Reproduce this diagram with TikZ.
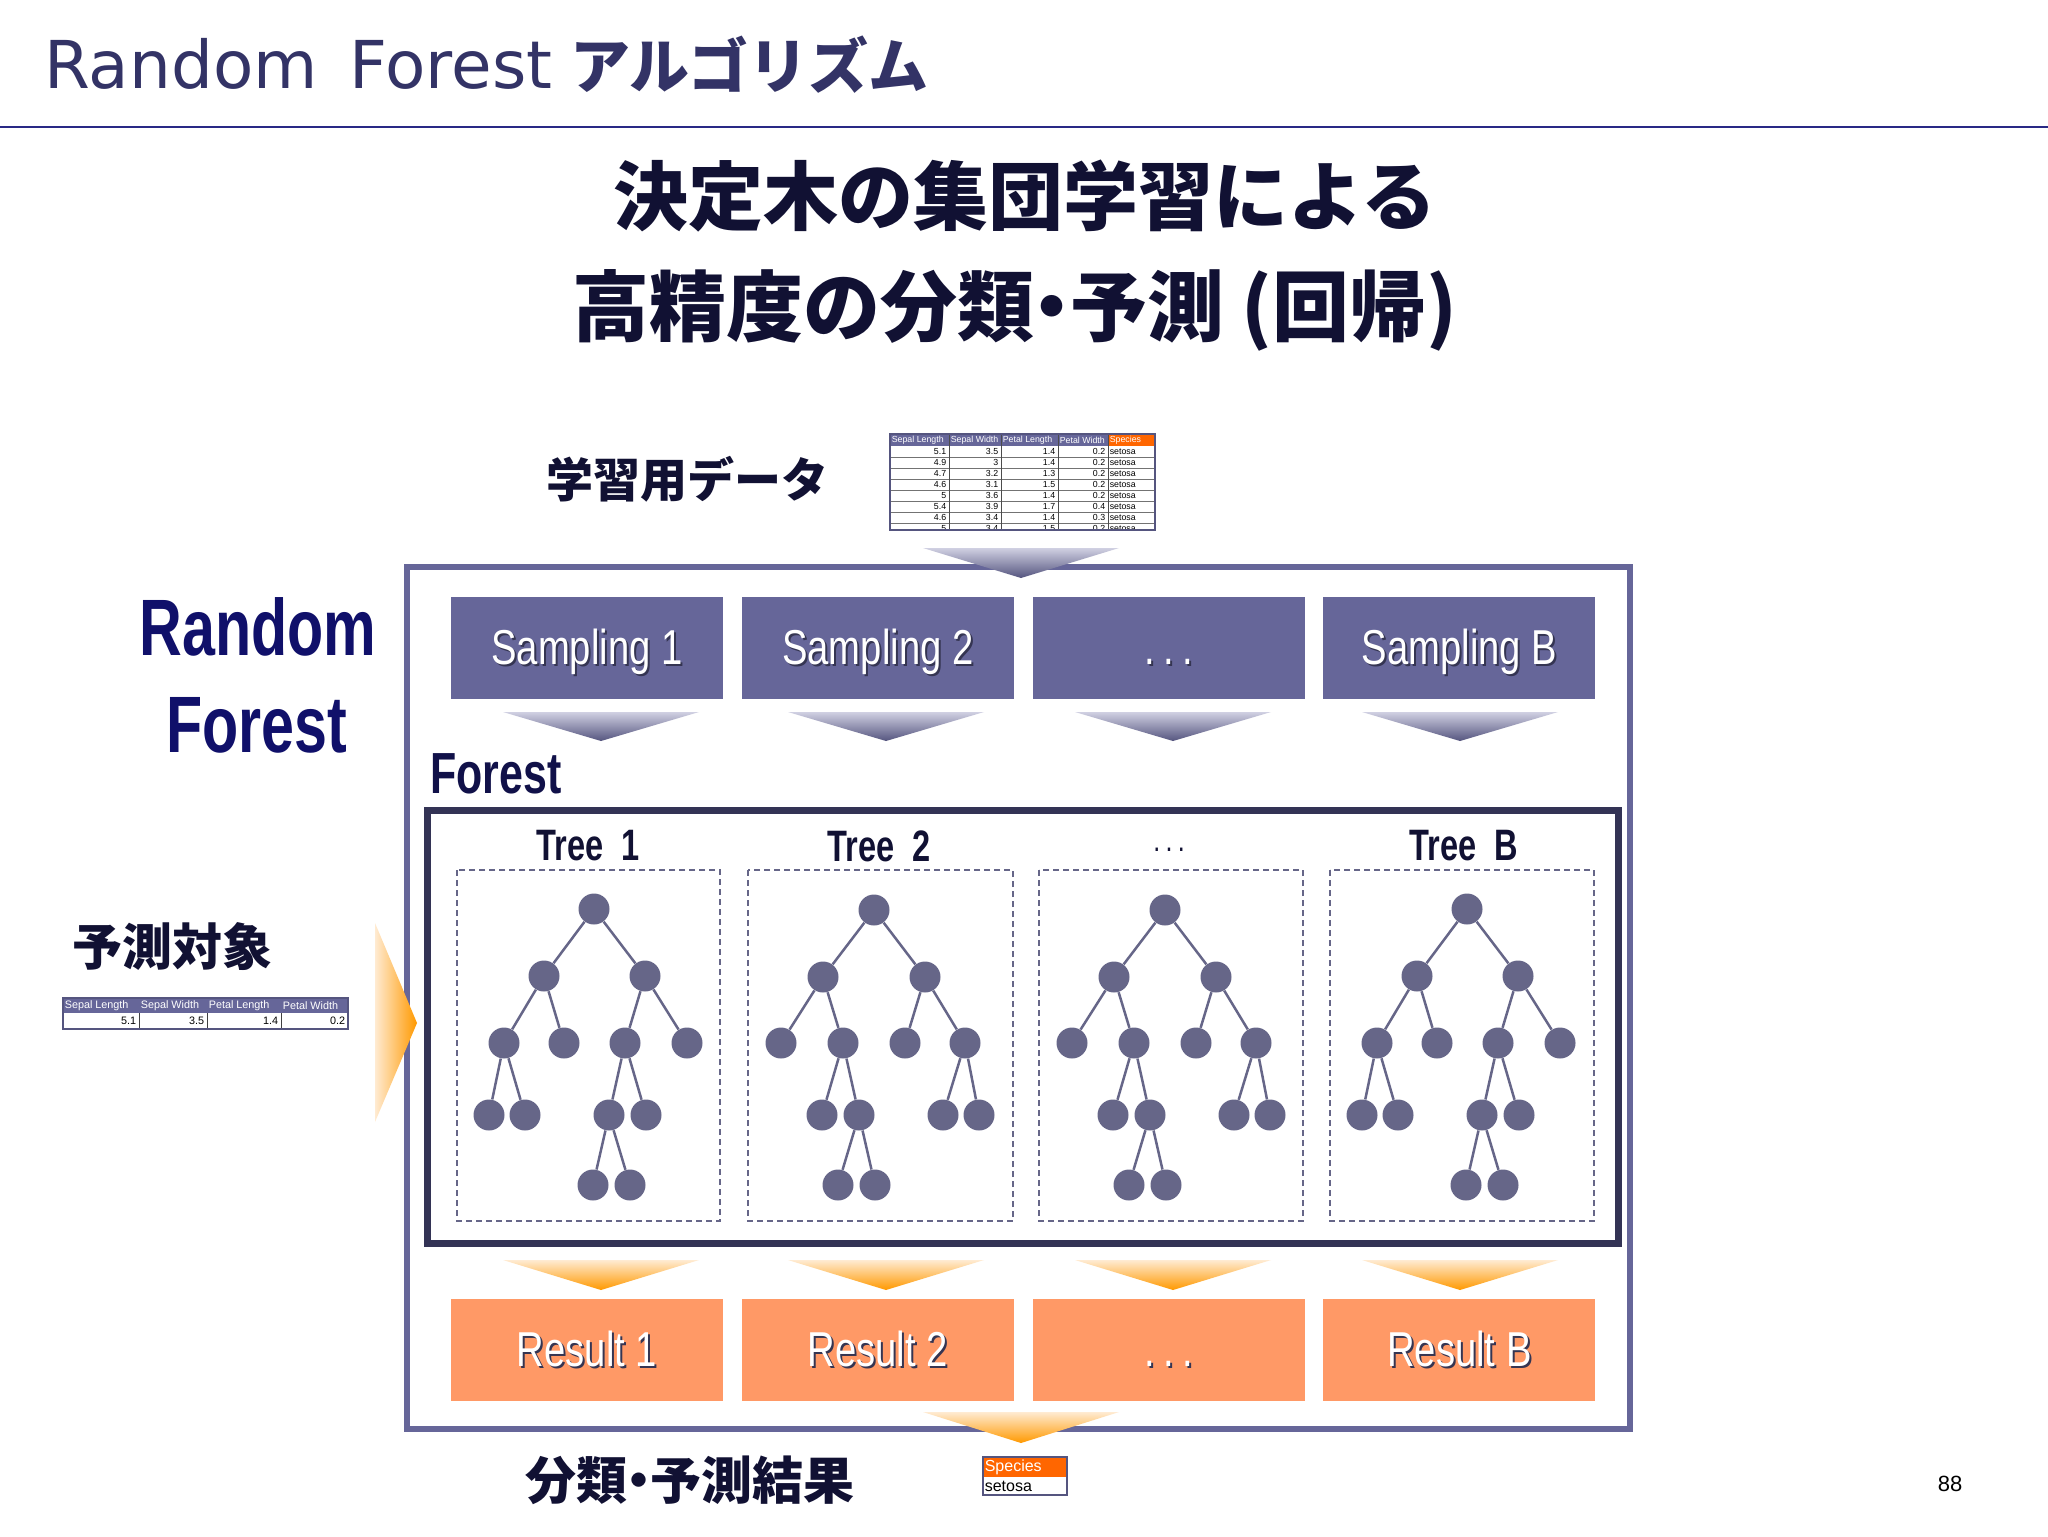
\documentclass[tikz,border=0pt]{standalone}
\usepackage{fontspec}
\usetikzlibrary{positioning}
\setmainfont{Liberation Sans}
\newfontfamily\jpfont{Noto Sans CJK JP}[BoldFont={Noto Sans CJK JP Black}]
\newfontfamily\verdfont{DejaVu Sans}
\newfontfamily\narrowfont[FakeStretch=0.78]{Liberation Sans}
\newfontfamily\narrowbold[FakeStretch=0.74]{Liberation Sans}

\definecolor{rfpurple}{HTML}{666699}
\definecolor{rfnavy}{HTML}{333366}
\definecolor{rfink}{HTML}{111133}
\definecolor{rfblue}{HTML}{10106A}
\definecolor{rfframe}{HTML}{333355}
\definecolor{rfdot}{HTML}{666688}
\definecolor{rforange}{HTML}{FF9966}
\definecolor{rfspecies}{HTML}{FF6600}
\definecolor{rfpeach}{HTML}{FFEBD2}
\definecolor{rfamber}{HTML}{FF9900}
\definecolor{rflilac}{HTML}{D0D0E2}
\definecolor{rfdusk}{HTML}{55557F}

\def\boxw{136pt}
\def\boxh{51pt}
\def\boxgap{9pt}
\def\nakaguro{\kern-0.27em・\kern-0.27em}
\tikzstyle{leaf}=[circle,fill=rfdot,minimum size=15.5pt,inner sep=0pt]
\tikzstyle{branch}=[draw=rfdot,line width=1.25pt]
\tikzstyle{samplebox}=[fill=rfpurple,minimum width=\boxw,minimum height=\boxh,inner sep=0pt,text height=17pt,text depth=0pt,font=\narrowfont\fontsize{24.5}{24.5}\selectfont]
\tikzstyle{resultbox}=[samplebox,fill=rforange]
\tikzstyle{treebox}=[draw=rfdot,dash pattern=on 3pt off 2pt,line width=0.9pt]
\tikzstyle{treetitle}=[font=\narrowbold\bfseries\fontsize{22}{22}\selectfont,text=rfink,inner sep=0pt]
\tikzstyle{jplabel}=[font=\jpfont\bfseries,text=rfink,inner sep=0pt]
\tikzstyle{cell}=[font=\fontsize{4.4}{4.4}\selectfont,inner sep=0.7pt]

\newcommand\shadowtext[1]{\makebox[0pt][l]{\hspace{1pt}\raisebox{-1pt}{\color{rfink!85}#1}}{\color{white}#1}}

% trees 1 and B
\newcommand\treeA[2]{%
  \node[leaf] (#1-r) at (#2+137,909) {};
  \node[leaf] (#1-a) at (#2+87,976) {};
  \node[leaf] (#1-b) at (#2+188,976) {};
  \node[leaf] (#1-aa) at (#2+47,1043) {};
  \node[leaf] (#1-ab) at (#2+107,1043) {};
  \node[leaf] (#1-ba) at (#2+168,1043) {};
  \node[leaf] (#1-bb) at (#2+230,1043) {};
  \node[leaf] (#1-aaa) at (#2+32,1115) {};
  \node[leaf] (#1-aab) at (#2+68,1115) {};
  \node[leaf] (#1-baa) at (#2+152,1115) {};
  \node[leaf] (#1-bab) at (#2+189,1115) {};
  \node[leaf] (#1-baaa) at (#2+136,1185) {};
  \node[leaf] (#1-baab) at (#2+173,1185) {};
  \path
  (#1-r) edge[branch] (#1-a)
  (#1-r) edge[branch] (#1-b)
  (#1-a) edge[branch] (#1-aa)
  (#1-a) edge[branch] (#1-ab)
  (#1-b) edge[branch] (#1-ba)
  (#1-b) edge[branch] (#1-bb)
  (#1-aa) edge[branch] (#1-aaa)
  (#1-aa) edge[branch] (#1-aab)
  (#1-ba) edge[branch] (#1-baa)
  (#1-ba) edge[branch] (#1-bab)
  (#1-baa) edge[branch] (#1-baaa)
  (#1-baa) edge[branch] (#1-baab);
}
% trees 2 and 3
\newcommand\treeC[2]{%
  \node[leaf] (#1-r) at (#2+126,910) {};
  \node[leaf] (#1-a) at (#2+75,977) {};
  \node[leaf] (#1-b) at (#2+177,977) {};
  \node[leaf] (#1-aa) at (#2+33,1043) {};
  \node[leaf] (#1-ab) at (#2+95,1043) {};
  \node[leaf] (#1-ba) at (#2+157,1043) {};
  \node[leaf] (#1-bb) at (#2+217,1043) {};
  \node[leaf] (#1-aba) at (#2+74,1115) {};
  \node[leaf] (#1-abb) at (#2+111,1115) {};
  \node[leaf] (#1-bba) at (#2+195,1115) {};
  \node[leaf] (#1-bbb) at (#2+231,1115) {};
  \node[leaf] (#1-abba) at (#2+90,1185) {};
  \node[leaf] (#1-abbb) at (#2+127,1185) {};
  \path
  (#1-r) edge[branch] (#1-a)
  (#1-r) edge[branch] (#1-b)
  (#1-a) edge[branch] (#1-aa)
  (#1-a) edge[branch] (#1-ab)
  (#1-b) edge[branch] (#1-ba)
  (#1-b) edge[branch] (#1-bb)
  (#1-ab) edge[branch] (#1-aba)
  (#1-ab) edge[branch] (#1-abb)
  (#1-bb) edge[branch] (#1-bba)
  (#1-bb) edge[branch] (#1-bbb)
  (#1-abb) edge[branch] (#1-abba)
  (#1-abb) edge[branch] (#1-abbb);
}

\begin{document}
\begin{tikzpicture}[x=0.5pt,y=-0.5pt]
  \useasboundingbox (0,0) rectangle (2048,1536);
  \fill[white] (0,0) rectangle (2048,1536);

  % title
  \node[anchor=base west,inner sep=0pt,text=rfnavy] (title) at (44,89)
    {\verdfont\fontsize{33}{33}\selectfont Random\hspace{16pt}Forest\hspace{9pt}{\jpfont\bfseries\fontsize{30}{30}\selectfont アルゴリズム}};
  \draw[draw=rfnavy!80!blue,line width=1.3pt] (0,127) -- (2048,127);

  \node[jplabel,font=\jpfont\bfseries\fontsize{37.5}{37.5}\selectfont] (head1) at (1025,196) {決定木の集団学習による};
  \node[jplabel,font=\jpfont\bfseries\fontsize{38.5}{38.5}\selectfont] (head2) at (1015,310) {高精度の分類\nakaguro 予測 (回帰)};

  % training data
  \node[jplabel,font=\jpfont\bfseries\fontsize{23.5}{23.5}\selectfont] (train) at (687,479) {学習用データ};
  \begin{scope}
    \clip (890,434) rectangle (1155,530);
    \foreach \xa/\xb/\lab [count=\i] in {890/949/Sepal Length,949/1001/Sepal Width,1001/1058/Petal Length,1058/1108/Petal Width}{
      \fill[rfpurple] (\xa,434) rectangle (\xb,446);
      \node[cell,text=white,anchor=west] (h-\i) at (\xa,440) {\lab};
    }
    \fill[rfspecies] (1108,434) rectangle (1155,446);
    \node[cell,text=white,anchor=west] (h-5) at (1108,440) {Species};
    \foreach \a/\b/\c/\d [count=\r] in {5.1/3.5/1.4/0.2,4.9/3/1.4/0.2,4.7/3.2/1.3/0.2,4.6/3.1/1.5/0.2,5/3.6/1.4/0.2,5.4/3.9/1.7/0.4,4.6/3.4/1.4/0.3,5/3.4/1.5/0.2}{
      \pgfmathsetmacro\yc{446+11*\r-5.5}
      \node[cell,anchor=east] (d-\r-1) at (948,\yc) {\a};
      \node[cell,anchor=east] (d-\r-2) at (1000,\yc) {\b};
      \node[cell,anchor=east] (d-\r-3) at (1057,\yc) {\c};
      \node[cell,anchor=east] (d-\r-4) at (1107,\yc) {\d};
      \node[cell,anchor=west] (d-\r-5) at (1108,\yc) {setosa};
      \draw[black!55,line width=0.3pt] (890,446+11*\r) -- (1155,446+11*\r);
    }
    \foreach \xv in {949,1001,1058,1108}
      \draw[black!70,line width=0.35pt] (\xv,434) -- (\xv,530);
  \end{scope}
  \draw[rfdusk,line width=0.9pt] (890,434) rectangle (1155,530);

  % outer frame
  \draw[rfpurple,line width=3pt] (407,567) rectangle (1630,1429);
  \shade[top color=rflilac,bottom color=rfdusk] (923,548) -- (1119,548) -- (1021,578) -- cycle;

  \node[font=\narrowbold\bfseries\fontsize{40}{40}\selectfont,text=rfblue,inner sep=0pt] (rf1) at (258,627) {Random};
  \node[font=\narrowbold\bfseries\fontsize{40}{40}\selectfont,text=rfblue,inner sep=0pt] (rf2) at (257,725) {Forest};

  % sampling
  \node[samplebox] (s1) at (587,647.5) {\shadowtext{Sampling 1}};
  \node[samplebox,right=\boxgap of s1] (s2) {\shadowtext{Sampling 2}};
  \node[samplebox,right=\boxgap of s2] (s3) {\shadowtext{.\,.\,.}};
  \node[samplebox,right=\boxgap of s3] (s4) {\shadowtext{Sampling B}};
  \foreach \cx in {601,886,1173,1460}
    \shade[top color=rflilac,bottom color=rfdusk] (\cx-98,712) -- (\cx+98,712) -- (\cx,741) -- cycle;

  % forest
  \node[anchor=west,inner sep=0pt,font=\narrowbold\bfseries\fontsize{29}{29}\selectfont,text=rfink!60!rfblue] (forest) at (430,774) {Forest};
  \draw[rfframe,line width=3.5pt] (427,810) rectangle (1618,1243);
  \node[treetitle] (t1) at (588,846) {Tree\ \ 1};
  \node[treetitle] (t2) at (879,846) {Tree\ \ 2};
  \node[treetitle,font=\narrowfont\fontsize{16}{16}\selectfont] (t3) at (1169,850) {.\,.\,.};
  \node[treetitle] (t4) at (1464,846) {Tree\ \ B};
  \draw[treebox] (457,870) rectangle (720,1221);
  \draw[treebox] (748,870) rectangle (1013,1221);
  \draw[treebox] (1039,870) rectangle (1303,1221);
  \draw[treebox] (1330,870) rectangle (1594,1221);
  \treeA{ta}{457}
  \treeC{tb}{748}
  \treeC{tc}{1039}
  \treeA{td}{1330}

  % target
  \node[jplabel,font=\jpfont\bfseries\fontsize{25}{25}\selectfont] (target) at (172,947) {予測対象};
  \foreach \xa/\xb/\lab/\val [count=\i] in {63/139/Sepal Length/5.1,139/207/Sepal Width/3.5,207/281/Petal Length/1.4,281/348/Petal Width/0.2}{
    \fill[rfpurple] (\xa,998) rectangle (\xb,1013);
    \node[cell,font=\fontsize{5.4}{5.4}\selectfont,text=white,anchor=west] (q-\i) at (\xa,1005.5) {\lab};
    \node[cell,font=\fontsize{5.4}{5.4}\selectfont,anchor=east] (v-\i) at (\xb-1,1021) {\val};
    \draw[black!75,line width=0.4pt] (\xb,998) -- (\xb,1029);
  }
  \draw[rfdusk,line width=0.9pt] (63,998) rectangle (348,1029);
  \shade[left color=rfpeach,right color=rfamber] (375,923) -- (417,1023) -- (375,1122) -- cycle;

  % results
  \foreach \cx in {601,886,1173,1460}
    \shade[top color=rfpeach,bottom color=rfamber] (\cx-98,1260) -- (\cx+98,1260) -- (\cx,1290) -- cycle;
  \node[resultbox] (r1) at (587,1349.5) {\shadowtext{Result 1}};
  \node[resultbox,right=\boxgap of r1] (r2) {\shadowtext{Result 2}};
  \node[resultbox,right=\boxgap of r2] (r3) {\shadowtext{.\,.\,.}};
  \node[resultbox,right=\boxgap of r3] (r4) {\shadowtext{Result B}};
  \shade[top color=rfpeach,bottom color=rfamber] (923,1412) -- (1119,1412) -- (1021,1443) -- cycle;

  \node[jplabel,font=\jpfont\bfseries\fontsize{25.5}{25.5}\selectfont] (outcome) at (690,1480) {分類\nakaguro 予測結果};
  \fill[rfspecies] (983,1457) rectangle (1067,1477);
  \node[cell,font=\fontsize{8}{8}\selectfont,text=white,anchor=west] (sp) at (983,1467) {Species};
  \node[cell,font=\fontsize{8}{8}\selectfont,anchor=west] (se) at (983,1486) {setosa};
  \draw[rfdusk,line width=1pt] (983,1457) rectangle (1067,1495);

  \node[font=\fontsize{11}{11}\selectfont,inner sep=0pt] (page) at (1950,1484) {88};
\end{tikzpicture}
\end{document}
